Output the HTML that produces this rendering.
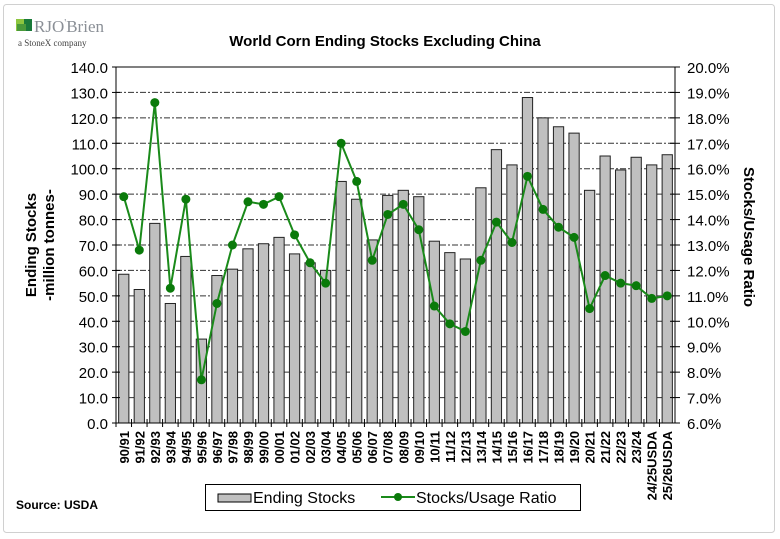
<!DOCTYPE html>
<html><head><meta charset="utf-8"><style>
body{margin:0;background:#fff;}
svg{display:block;font-family:"Liberation Sans",Arial,sans-serif;}
</style></head><body>
<svg id="chart" width="780" height="539" viewBox="0 0 780 539" xmlns="http://www.w3.org/2000/svg">
<rect x="3.5" y="4.5" width="771" height="528" rx="3" fill="#fff" stroke="#d0d0d0"/>
<g>
<rect x="16" y="19" width="8" height="12" fill="#8dc63f"/><rect x="24" y="19" width="8" height="12" fill="#1a7a3a"/><rect x="17" y="24" width="9" height="7" fill="#4a9a3a"/>
<text x="34" y="32" font-family="Liberation Serif,serif" font-size="17" fill="#8a8f96">RJO<tspan font-size="11" dy="-6">'</tspan><tspan dy="6">Brien</tspan></text>
<text x="18" y="46" font-family="Liberation Serif,serif" font-size="9" fill="#444">a StoneX company</text>
</g>
<text x="385" y="46" text-anchor="middle" font-size="15" font-weight="bold" fill="#000">World Corn Ending Stocks Excluding China</text>
<g id="grid"></g><g id="bars"></g><g id="axes"></g><g id="line"></g><g id="labels"></g>
<text transform="translate(36,245) rotate(-90)" text-anchor="middle" font-size="15" font-weight="bold">Ending Stocks</text>
<text transform="translate(54,245) rotate(-90)" text-anchor="middle" font-size="15" font-weight="bold">-million tonnes-</text>
<text transform="translate(744,237) rotate(90)" text-anchor="middle" font-size="15" font-weight="bold">Stocks/Usage Ratio</text>
<g>
<rect x="205.5" y="484.5" width="375" height="26" fill="#fff" stroke="#000"/>
<rect x="218" y="494" width="33" height="8" fill="#c0c0c0" stroke="#000"/>
<text x="253" y="503" font-size="16">Ending Stocks</text>
<line x1="381" y1="497" x2="415" y2="497" stroke="#1a8a1a" stroke-width="2"/><circle cx="398" cy="497" r="4" fill="#0a7a0a"/>
<text x="416" y="503" font-size="16">Stocks/Usage Ratio</text>
</g>
<text x="16" y="509" font-size="12" font-weight="bold">Source: USDA</text>
</svg>
<script>
const categories=["90/91","91/92","92/93","93/94","94/95","95/96","96/97","97/98","98/99","99/00","00/01","01/02","02/03","03/04","04/05","05/06","06/07","07/08","08/09","09/10","10/11","11/12","12/13","13/14","14/15","15/16","16/17","17/18","18/19","19/20","20/21","21/22","22/23","23/24","24/25USDA","25/26USDA"];
const endingStocks=[58.5,52.5,78.5,47,65.5,33,58,60.5,68.5,70.5,73,66.5,63,60,95,88,72,89.5,91.5,89,71.5,67,64.5,92.5,107.5,101.5,128,120,116.5,114,91.5,105,99.5,104.5,101.5,105.5];
const ratio=[14.9,12.8,18.6,11.3,14.8,7.7,10.7,13.0,14.7,14.6,14.9,13.4,12.3,11.5,17.0,15.5,12.4,14.2,14.6,13.6,10.6,9.9,9.6,12.4,13.9,13.1,15.7,14.4,13.7,13.3,10.5,11.8,11.5,11.4,10.9,11.0];
const leftTicks=[0,10,20,30,40,50,60,70,80,90,100,110,120,130,140];
const rightTicks=[6,7,8,9,10,11,12,13,14,15,16,17,18,19,20];
const NS="http://www.w3.org/2000/svg";
const X0=116,X1=675,Y0=423,Y1=67;
const bw=(X1-X0)/categories.length;
const yL=v=>Y0-(v/140)*(Y0-Y1);
const yR=v=>Y0-((v-6)/14)*(Y0-Y1);
const xC=i=>X0+bw*(i+0.5);
function mk(tag,attrs,parent){const e=document.createElementNS(NS,tag);for(const k in attrs)e.setAttribute(k,attrs[k]);document.getElementById(parent).appendChild(e);return e;}
leftTicks.forEach((t,i)=>{
  const y=yL(t);
  if(t>0){const g=mk('line',{x1:X0,x2:X1,y1:y,y2:y,stroke:t===140?'#000':'#333','stroke-width':1,'stroke-dasharray':t===140?'none':'6,2,2,2'},'grid');
  
  }
  const tk=mk('line',{x1:X0-4,x2:X0+4,y1:y,y2:y,stroke:'#000'},'axes');
  
  
  const lb=mk('text',{x:X0-8,y:y+6,'text-anchor':'end','font-size':15},'labels');lb.textContent=t.toFixed(1);
  
  
});
rightTicks.forEach(t=>{
  const y=yR(t);
  const tk=mk('line',{x1:X1-5,x2:X1+5,y1:y,y2:y,stroke:'#000'},'axes');
  
  
  const lb=mk('text',{x:X1+12,y:y+6,'font-size':15},'labels');lb.textContent=t.toFixed(1)+'%';
  
  
});
endingStocks.forEach((v,i)=>{
  const b=mk('rect',{x:xC(i)-bw*0.33,y:yL(v),width:bw*0.66,height:Y0-yL(v),fill:'#c0c0c0',stroke:'#222','stroke-width':1},'bars');
  
  
});
categories.forEach((c,i)=>{
  const tk=mk('line',{x1:X0+bw*i,x2:X0+bw*i,y1:Y0-4,y2:Y0+4,stroke:'#000'},'axes');
  
  
  const lb=mk('text',{transform:`translate(${xC(i)+5},${Y0+8}) rotate(-90)`,'text-anchor':'end','font-size':13,'font-weight':'bold'},'labels');lb.textContent=c;
  
  
});
const ax1=mk('line',{x1:X0,x2:X0,y1:Y1,y2:Y0,stroke:'#000'},'axes');


const ax2=mk('line',{x1:X1,x2:X1,y1:Y1,y2:Y0,stroke:'#000'},'axes');


const ax3=mk('line',{x1:X0,x2:X1,y1:Y0,y2:Y0,stroke:'#000'},'axes');


const pts=ratio.map((v,i)=>xC(i)+','+yR(v)).join(' ');
const pl=mk('polyline',{points:pts,fill:'none',stroke:'#1a8a1a','stroke-width':2},'line');


ratio.forEach((v,i)=>{
  const c=mk('circle',{cx:xC(i),cy:yR(v),r:4.5,fill:'#0a7a0a'},'line');
  
  
});
</script>
</body></html>
